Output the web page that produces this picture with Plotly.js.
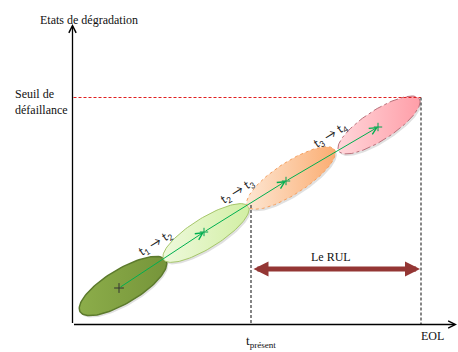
<!DOCTYPE html>
<html><head><meta charset="utf-8">
<script src="https://cdn.plot.ly/plotly-3.0.1.min.js"></script>
<style>html,body{margin:0;padding:0;background:#fff}#chart{width:458px;height:352px}</style>
</head><body><div id="chart"></div>
<script>
// ---- data (diagram coordinates) ----
const stageLabels = ['t<sub>1</sub> → t<sub>2</sub>', 't<sub>2</sub> → t<sub>3</sub>', 't<sub>3</sub> → t<sub>4</sub>'];
const stageLabelX = [155, 237, 330];
const stageLabelY = [243, 191, 135];
const ellipseCx = [123, 206, 291, 379];
const ellipseCy = [286, 233, 178, 125];
const semiMajor = [50, 50, 52, 48];
const semiMinor = [17, 15, 16, 15];
const tiltDeg = [31, 32, 33, 33];
const trajX = [119, 204, 286, 378];
const trajY = [288, 232, 181, 127];
const thresholdY = 97.5;
const presentX = 251;
const eolX = 421;
const originX = 72.5, originY = 324.5;

// ---- styles ----
const fills = [
  ['#8cad4a', '#76953a'],
  ['#eef9dc', '#d2efa4'],
  ['#fde6d2', '#fbad72'],
  ['#ffd6da', '#ff9ea8']
];
const edges = [
  {color: '#5c7a2c', width: 1.5, dash: 'solid'},
  {color: '#a6c66a', width: 1, dash: 'solid'},
  {color: '#f4a060', width: 1, dash: 'dot'},
  {color: '#b9707a', width: 1, dash: 'dashdot'}
];

function ellipse(cx, cy, a, b, deg) {
  const th = -deg * Math.PI / 180, xs = [], ys = [];
  for (let i = 0; i <= 120; i++) {
    const t = 2 * Math.PI * i / 120;
    xs.push(cx + a * Math.cos(th) * Math.cos(t) - b * Math.sin(th) * Math.sin(t));
    ys.push(cy + a * Math.sin(th) * Math.cos(t) + b * Math.cos(th) * Math.sin(t));
  }
  return {xs, ys};
}

const traces = [];
for (let i = 0; i < ellipseCx.length; i++) {
  const s = ellipse(ellipseCx[i] + 1.5, ellipseCy[i] + 2, semiMajor[i], semiMinor[i], tiltDeg[i]);
  traces.push({x: s.xs, y: s.ys, mode: 'lines', fill: 'toself', fillcolor: 'rgba(0,0,0,0.12)',
    line: {width: 0}, hoverinfo: 'skip', showlegend: false});
  const e = ellipse(ellipseCx[i], ellipseCy[i], semiMajor[i], semiMinor[i], tiltDeg[i]);
  traces.push({x: e.xs, y: e.ys, mode: 'lines', fill: 'toself',
    fillcolor: fills[i][1],
    fillgradient: {type: 'horizontal', colorscale: [[0, fills[i][0]], [1, fills[i][1]]]},
    line: edges[i], hoverinfo: 'skip', showlegend: false});
}
traces.push({x: [trajX[0]], y: [trajY[0]], mode: 'markers',
  marker: {symbol: 'cross-thin', size: 7, line: {color: '#333', width: 1}}, showlegend: false, hoverinfo: 'skip'});
traces.push({x: trajX.slice(1), y: trajY.slice(1), mode: 'markers',
  marker: {symbol: 'cross-thin', size: 6, line: {color: '#00a050', width: 1}}, showlegend: false, hoverinfo: 'skip'});

const serif = 'Liberation Serif';
const ann = [];
// axes arrows
ann.push({x: originX, y: 24, ax: originX, ay: originY, xref: 'x', yref: 'y', axref: 'x', ayref: 'y',
  text: '', showarrow: true, arrowhead: 5, arrowsize: 1.1, arrowwidth: 1.3, arrowcolor: '#000'});
ann.push({x: 457, y: originY, ax: originX, ay: originY, xref: 'x', yref: 'y', axref: 'x', ayref: 'y',
  text: '', showarrow: true, arrowhead: 5, arrowsize: 1.1, arrowwidth: 1.3, arrowcolor: '#000'});
// trajectory arrows
for (let i = 0; i < trajX.length - 1; i++) {
  ann.push({x: trajX[i + 1], y: trajY[i + 1], ax: trajX[i], ay: trajY[i], xref: 'x', yref: 'y', axref: 'x', ayref: 'y',
    text: '', showarrow: true, arrowhead: 5, arrowsize: 1.4, arrowwidth: 1, arrowcolor: '#00b050'});
  ann.push({x: stageLabelX[i], y: stageLabelY[i], text: stageLabels[i], showarrow: false, textangle: -32,
    font: {family: 'Lato', size: 12, color: '#222'}});
}
// RUL arrow
ann.push({x: eolX - 1, y: 269, ax: presentX + 1, ay: 269, xref: 'x', yref: 'y', axref: 'x', ayref: 'y',
  text: '', showarrow: true, arrowhead: 2, arrowside: 'end+start', arrowsize: 0.6, arrowwidth: 5, arrowcolor: '#943634'});
ann.push({x: 331, y: 257, text: 'Le RUL', showarrow: false, font: {family: serif, size: 12, color: '#111'}});
// texts
ann.push({x: 38, y: 20, xanchor: 'left', text: 'Etats de dégradation', showarrow: false, font: {family: serif, size: 12, color: '#111'}});
ann.push({x: 13, y: 102, xanchor: 'left', align: 'left', text: 'Seuil de<br>défaillance', showarrow: false,
  font: {family: serif, size: 12, color: '#111'}});
ann.push({x: 432, y: 336, text: 'EOL', showarrow: false, font: {family: serif, size: 12, color: '#111'}});
ann.push({x: 244, y: 352, xanchor: 'left', yanchor: 'bottom', text: 't<sub>présent</sub>', showarrow: false,
  font: {family: serif, size: 13, color: '#111'}});

const shapes = [
  {type: 'line', x0: originX + 1, x1: eolX, y0: thresholdY, y1: thresholdY, line: {color: '#e02020', width: 1, dash: '3px,2px'}},
  {type: 'line', x0: eolX, x1: eolX, y0: thresholdY, y1: originY, line: {color: '#444', width: 1.3, dash: '3px,2px'}},
  {type: 'line', x0: presentX, x1: presentX, y0: 205, y1: originY, line: {color: '#444', width: 1.3, dash: '3px,2px'}}
];

const layout = {
  width: 458, height: 352, margin: {l: 0, r: 0, t: 0, b: 0},
  paper_bgcolor: '#fff', plot_bgcolor: '#fff',
  xaxis: {range: [0, 458], visible: false, fixedrange: true},
  yaxis: {range: [352, 0], visible: false, fixedrange: true},
  shapes: shapes, annotations: ann, showlegend: false
};
Plotly.newPlot('chart', traces, layout, {staticPlot: true, displayModeBar: false});
</script></body></html>
